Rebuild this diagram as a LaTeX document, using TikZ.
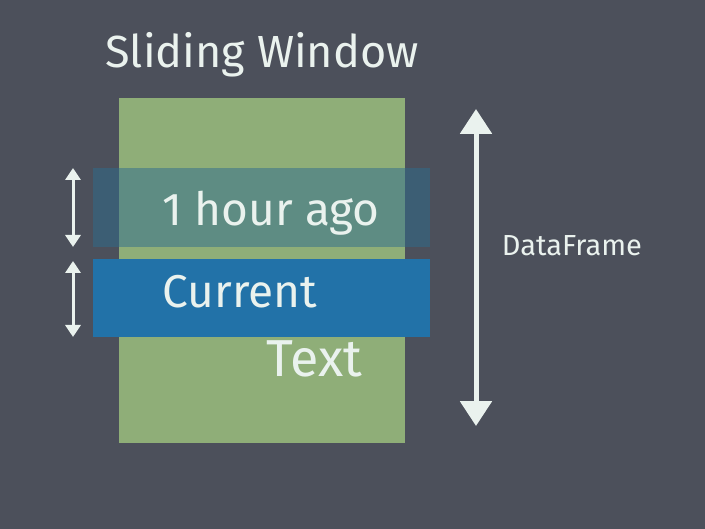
\documentclass[tikz,border=0pt]{standalone}
\usepackage{fontspec}
\setmainfont{Fira Sans}
\usepackage{xcolor}
\usepackage{tikz}
\usetikzlibrary{arrows.meta,positioning}

\definecolor{slate}{HTML}{4C505B}
\definecolor{sage}{HTML}{8FAE78}
\definecolor{steel}{HTML}{2272A8}
\definecolor{haze}{HTML}{2E6C8E}
\definecolor{chalk}{HTML}{EAF2EE}

\begin{document}
\begin{tikzpicture}[x=1pt, y=-1pt,
    chalkarrow/.style={{Triangle[width=#1,length=0.8*#1]}-{Triangle[width=#1,length=0.8*#1]}, line width=5pt, chalk},
    band/.style={anchor=north west, inner sep=0pt, minimum width=337pt, minimum height=#1},
    label/.style={text=chalk, inner sep=0pt}]
    % Background
    \fill[slate] (0, 0) rectangle (705, 529);
    \useasboundingbox (0, 0) rectangle (705, 529);

    % Title
    \node[label, font=\fontsize{45}{50}\selectfont] (title) at (262, 55) {Sliding Window};

    % Data frame
    \node[fill=sage, anchor=north west, inner sep=0pt, minimum width=286pt, minimum height=345pt] (window) at (119, 98) {};

    % Windows
    \node[band=79pt, fill=haze, fill opacity=0.5] (past) at (93, 168) {};
    \node[band=78pt, fill=steel] (current) at (93, 259) {};

    % Labels
    \node[label, font=\fontsize{46}{50}\selectfont] (pastlabel) at (271, 213) {1 hour ago};
    \node[label, font=\fontsize{46}{50}\selectfont] (currentlabel) at (240, 292) {Current};
    \node[label, font=\fontsize{52}{56}\selectfont] (textlabel) at (314, 359) {Text};
    \node[label, font=\fontsize{29}{32}\selectfont] (dflabel) at (572, 246) {DataFrame};

    % Arrows
    \coordinate (pasttop) at (73, 168);
    \coordinate (pastbot) at (73, 247);
    \coordinate (curtop) at (73, 261);
    \coordinate (curbot) at (73, 337);
    \coordinate (dftop) at (476, 109);
    \coordinate (dfbot) at (476, 426);
    \draw[chalkarrow=15pt, line width=3pt] (pasttop) -- (pastbot);
    \draw[chalkarrow=15pt, line width=3pt] (curtop) -- (curbot);
    \draw[chalkarrow=31pt] (dftop) -- (dfbot);
\end{tikzpicture}
\end{document}
